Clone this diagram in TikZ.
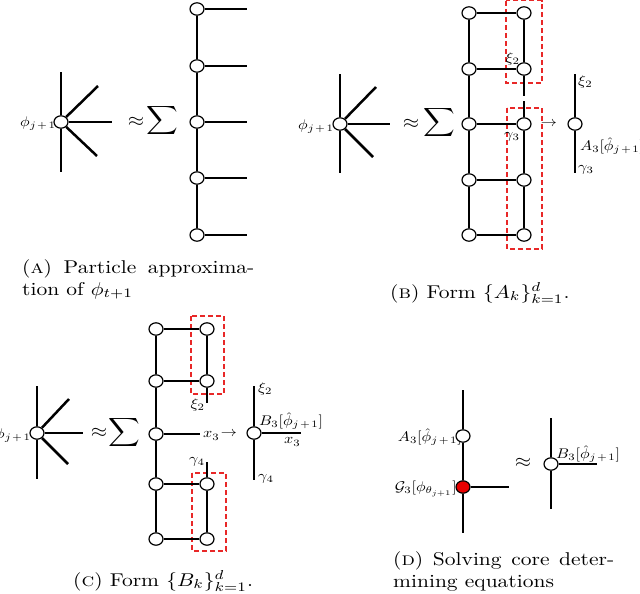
\RequirePackage{fix-cm}
\documentclass[tikz,border=0pt]{standalone}
\usepackage{graphicx}
\usetikzlibrary{shapes.geometric}
\definecolor{dred}{RGB}{232,40,40}
\definecolor{redfill}{RGB}{232,0,0}
\newcommand{\cx}[1]{\scalebox{2.15}[1.85]{#1}}
\newcommand{\lx}[1]{\scalebox{1.61}[1.4]{#1}}
\newcommand{\pj}{\phi_{j\mkern2mu+\mkern2mu1}}
\tikzset{
 vtx/.style={ellipse, draw, fill=white, line width=1.2pt, minimum width=14pt, minimum height=12.4pt, inner sep=0pt},
 rvtx/.style={vtx, fill=redfill},
 thk/.style={line width=2.5pt},
 thn/.style={line width=1.4pt},
 med/.style={line width=1.9pt},
 lbl/.style={font=\fontsize{10}{12}\selectfont, inner sep=0pt},
 captxt/.style={font=\fontsize{10}{12}\selectfont, inner sep=0pt, anchor=base west},
 bigm/.style={font=\fontsize{10}{12}\selectfont, inner sep=0pt},
 rbox/.style={draw=dred, dash pattern=on 5pt off 3pt, line width=1.1pt},
}
\newcommand{\apx}{\scalebox{2.1}[1.9]{$\approx$}}
\newcommand{\bsum}{\scalebox{2.2}[2.0]{$\displaystyle\sum$}}
\begin{document}
\begin{tikzpicture}[x=1pt,y=-1pt]
\useasboundingbox (0,0) rectangle (640,594);

% ================= Panel A =================
\node[vtx] (a0) at (61,122) {};
\coordinate (a0t) at (61,72);
\coordinate (a0b) at (61,172);
\coordinate (a0u) at (98,86);
\coordinate (a0r) at (112,122);
\coordinate (a0d) at (97,156);
\draw[thk] (a0) -- (a0t);
\draw[thk] (a0) -- (a0b);
\draw[thk] (a0) -- (a0u);
\draw[thk] (a0) -- (a0r);
\draw[thk] (a0) -- (a0d);
\node[lbl, anchor=east] (a0l) at (56,124) {\lx{$\pj$}};
\node[bigm] (aap) at (136,122) {\apx};
\node[bigm] (asum) at (162,121) {\bsum};
\foreach \i/\y in {1/9,2/66,3/122,4/178,5/235}{
  \node[vtx] (a\i) at (197,\y) {};
  \coordinate (a\i e) at (247,\y);
}
\draw[thk] (a1) -- (a2);
\draw[thk] (a2) -- (a3);
\draw[thn] (a3) -- (a4);
\draw[thk] (a4) -- (a5);
\draw[thk] (a1) -- (a1e);
\draw[thk] (a2) -- (a2e);
\draw[thk] (a3) -- (a3e);
\draw[thn] (a4) -- (a4e);
\draw[thk] (a5) -- (a5e);
\node[captxt] (capa1) at (22,273) {\cx{\hbox to 108pt{(\textsc{a})\hfill Particle\hfill approxima-}}};
\node[captxt] (capa2) at (22,295) {\cx{tion of $\phi_{t+1}$}};

% ================= Panel B =================
\node[vtx] (b0) at (340,124) {};
\coordinate (b0t) at (340,74);
\coordinate (b0b) at (340,173);
\coordinate (b0u) at (376,87);
\coordinate (b0r) at (390,124);
\coordinate (b0d) at (373,157);
\draw[thk] (b0) -- (b0t);
\draw[thk] (b0) -- (b0b);
\draw[thk] (b0) -- (b0u);
\draw[thn] (b0) -- (b0r);
\draw[thk] (b0) -- (b0d);
\node[lbl, anchor=east] (b0l) at (334,127) {\lx{$\pj$}};
\node[bigm] (bap) at (411,124) {\apx};
\node[bigm] (bsum) at (439,123) {\bsum};
\draw[rbox] (506,0.8) rectangle (542,83);
\draw[rbox] (507,108) rectangle (542,249);
\foreach \i/\y in {1/13,2/69,3/124,4/180,5/235}{
  \node[vtx] (bl\i) at (469,\y) {};
  \node[vtx] (br\i) at (524,\y) {};
}
\coordinate (bg1) at (524,96);
\coordinate (bg2) at (524,101);
\draw[thk] (bl1) -- (bl2);
\draw[thk] (bl2) -- (bl3);
\draw[thk] (bl3) -- (bl4);
\draw[med] (bl4) -- (bl5);
\draw[thk] (br1) -- (br2);
\draw[thk] (br2) -- (bg1);
\draw[thk] (bg2) -- (br3);
\draw[thn] (br3) -- (br4);
\draw[thn] (br4) -- (br5);
\draw[thk] (bl1) -- (br1);
\draw[thn] (bl2) -- (br2);
\draw[thk] (bl3) -- (br3);
\draw[thn] (bl4) -- (br4);
\draw[thk] (bl5) -- (br5);
\node[lbl, anchor=east] (bxi) at (520,59) {\lx{$\xi_2$}};
\node[lbl, anchor=east] (bga) at (520,137) {\lx{$\gamma_3$}};
\node[lbl] (barr) at (549,124) {\lx{$\rightarrow$}};
\node[vtx] (bR) at (575,124) {};
\coordinate (bRt) at (575,74);
\coordinate (bRb) at (575,173);
\draw[thk] (bR) -- (bRt);
\draw[thn] (bR) -- (bRb);
\node[lbl, anchor=west] (bRxi) at (578,82) {\lx{$\xi_2$}};
\node[lbl, anchor=west] (bRA) at (580,146) {\lx{$A_3[\hat{\phi}_{j\mkern2mu+\mkern2mu1}]$}};
\node[lbl, anchor=west] (bRga) at (578,170) {\lx{$\gamma_3$}};
\node[captxt] (capb) at (390,298) {\cx{(\textsc{b}) Form $\{A_k\}_{k=1}^d$.}};

% ================= Panel C =================
\node[vtx] (c0) at (37,433) {};
\coordinate (c0t) at (37,386);
\coordinate (c0b) at (37,479);
\coordinate (c0u) at (69,399);
\coordinate (c0r) at (83,433);
\coordinate (c0d) at (68,464);
\draw[thk] (c0) -- (c0t);
\draw[thk] (c0) -- (c0b);
\draw[thk] (c0) -- (c0u);
\draw[thk] (c0) -- (c0r);
\draw[thk] (c0) -- (c0d);
\node[lbl, anchor=east] (c0l) at (31,436) {\lx{$\pj$}};
\node[bigm] (cap_) at (99,433) {\apx};
\node[bigm] (csum) at (124,432) {\bsum};
\draw[rbox] (191,316) rectangle (224,394);
\draw[rbox] (192,473) rectangle (226,551);
\foreach \i/\y in {1/329,2/381,3/434,4/484,5/539}{
  \node[vtx] (cl\i) at (156,\y) {};
}
\foreach \i/\y in {1/329,2/381,4/484,5/539}{
  \node[vtx] (cr\i) at (207,\y) {};
}
\coordinate (cs2) at (207,403);
\coordinate (cs4) at (207,462);
\coordinate (cx3) at (200,434);
\draw[thk] (cl1) -- (cl2);
\draw[thk] (cl2) -- (cl3);
\draw[thk] (cl3) -- (cl4);
\draw[thk] (cl4) -- (cl5);
\draw[thk] (cl1) -- (cr1);
\draw[thk] (cl2) -- (cr2);
\draw[med] (cl3) -- (cx3);
\draw[thk] (cl4) -- (cr4);
\draw[thk] (cl5) -- (cr5);
\draw[med] (cr1) -- (cr2);
\draw[thk] (cr2) -- (cs2);
\draw[med] (cs4) -- (cr4);
\draw[thk] (cr4) -- (cr5);
\node[lbl, anchor=east] (cxi) at (205,405) {\lx{$\xi_2$}};
\node[lbl, anchor=east] (cga) at (205,462) {\lx{$\gamma_4$}};
\node[lbl, anchor=west] (cx3l) at (203,436) {\lx{$x_3$}};
\node[lbl] (carr) at (229,434) {\lx{$\rightarrow$}};
\node[vtx] (cR) at (254,433) {};
\coordinate (cRt) at (254,386);
\coordinate (cRb) at (254,480);
\coordinate (cRr) at (301,433);
\draw[thk] (cR) -- (cRt);
\draw[thk] (cR) -- (cRb);
\draw[thk] (cR) -- (cRr);
\node[lbl, anchor=west] (cRxi) at (258,389) {\lx{$\xi_2$}};
\node[lbl, anchor=west] (cRB) at (259,421) {\lx{$B_3[\hat{\phi}_{j\mkern2mu+\mkern2mu1}]$}};
\node[lbl, anchor=west] (cRx) at (284,442) {\lx{$x_3$}};
\node[lbl, anchor=west] (cRga) at (258,479) {\lx{$\gamma_4$}};
\node[captxt] (capc) at (73,586) {\cx{(\textsc{c}) Form $\{B_k\}_{k=1}^d$.}};

% ================= Panel D =================
\node[lbl, anchor=east] (dAl) at (462,437) {\lx{$A_3[\hat{\phi}_{j\mkern2mu+\mkern2mu1}]$}};
\node[lbl, anchor=east] (dGl) at (457,489) {\lx{$\mathcal{G}_3[\phi_{\theta_{j+1}}]$}};
\node[vtx] (dA) at (463,436) {};
\node[rvtx] (dG) at (463,487) {};
\coordinate (dt) at (463,390);
\coordinate (db) at (463,533);
\coordinate (dr) at (509,487);
\draw[thk] (dA) -- (dt);
\draw[thk] (dA) -- (dG);
\draw[thk] (dG) -- (db);
\draw[thk] (dG) -- (dr);
\node[bigm] (dap) at (523,463) {\apx};
\node[vtx] (dB) at (551,464) {};
\coordinate (dBt) at (551,418);
\coordinate (dBb) at (551,509);
\coordinate (dBr) at (597,464);
\draw[thk] (dB) -- (dBt);
\draw[thk] (dB) -- (dBb);
\draw[thk] (dB) -- (dBr);
\node[lbl, anchor=west] (dBl) at (556,454) {\lx{$B_3[\hat{\phi}_{j\mkern2mu+\mkern2mu1}]$}};
\node[captxt] (capd1) at (393,565) {\cx{\hbox to 102.8pt{(\textsc{d})\hfill Solving\hfill core\hfill deter-}}};
\node[captxt] (capd2) at (393,587) {\cx{mining equations}};
\end{tikzpicture}
\end{document}
